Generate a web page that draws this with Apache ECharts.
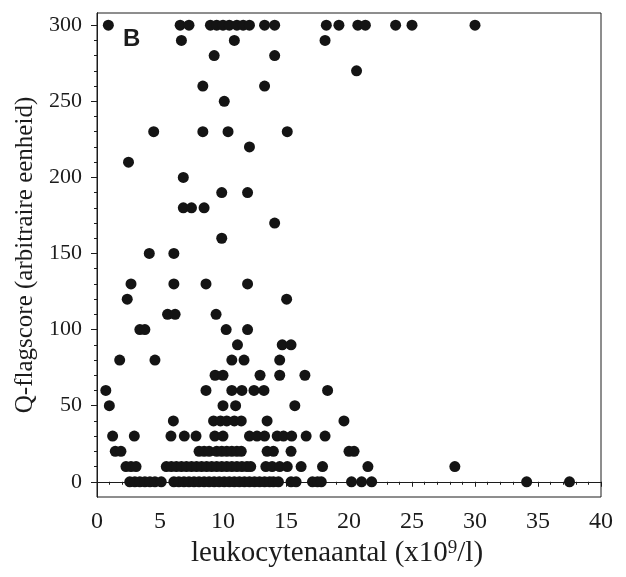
<!DOCTYPE html>
<html>
<head>
<meta charset="utf-8">
<script src="https://cdn.jsdelivr.net/npm/echarts@6/dist/echarts.min.js"></script>
<style>
html,body{margin:0;padding:0;background:#fff;}
#chart{width:626px;height:577px;}
</style>
</head>
<body>
<div id="chart"></div>
<script>
// Tick labels
const xTickLabels = [0, 5, 10, 15, 20, 25, 30, 35, 40];
const yTickLabels = [0, 50, 100, 150, 200, 250, 300];
const yMinorStep = 10;

// Leukocyte counts (x10^9/l) at each Q-flag score level
const score0 = [2.6, 3.0, 3.4, 3.8, 4.2, 4.6, 5.1, 6.1, 6.5, 6.9, 7.3, 7.7, 8.1, 8.5, 8.9, 9.3, 9.7, 10.1, 10.5, 10.9, 11.3, 11.7, 12.1, 12.5, 12.9, 13.3, 13.7, 14.0, 14.4, 15.4, 15.8, 17.1, 17.5, 17.8, 20.2, 21.0, 21.8, 34.1, 37.5];
const score10 = [2.3, 2.7, 3.1, 5.5, 5.9, 6.3, 6.7, 7.1, 7.5, 7.9, 8.3, 8.7, 9.1, 9.5, 9.9, 10.3, 10.7, 11.1, 11.5, 11.9, 12.2, 13.4, 13.9, 14.5, 15.1, 16.2, 17.9, 21.5, 28.4];
const score20 = [1.45, 1.9, 8.1, 8.5, 8.9, 9.5, 9.9, 10.3, 10.7, 11.1, 11.45, 13.5, 14.0, 15.4, 20.0, 20.4];
const score30 = [1.24, 2.96, 5.87, 6.93, 7.86, 9.35, 10.0, 12.1, 12.7, 13.3, 14.3, 14.8, 15.45, 16.6, 18.1];
const score40 = [6.06, 9.25, 9.8, 10.3, 10.9, 11.45, 13.5, 19.6];
const score50 = [0.98, 10.0, 11.0, 15.7];
const score60 = [0.7, 8.65, 10.7, 11.5, 12.46, 13.25, 18.3];
const score70 = [9.37, 10.0, 12.94, 14.5, 16.5];
const score80 = [1.8, 4.6, 10.7, 11.67, 14.5];
const score90 = [11.15, 14.7, 15.4];
const score100 = [3.4, 3.8, 10.25, 11.95];
const score110 = [5.6, 6.2, 9.45];
const score120 = [2.4, 15.05];
const score130 = [2.7, 6.1, 8.65, 11.95];
const score150 = [4.15, 6.1];
const score160 = [9.9];
const score170 = [14.1];
const score180 = [6.85, 7.5, 8.5];
const score190 = [9.9, 11.95];
const score200 = [6.85];
const score210 = [2.5];
const score220 = [12.1];
const score230 = [4.5, 8.4, 10.4, 15.1];
const score250 = [10.1];
const score260 = [8.4, 13.3];
const score270 = [20.6];
const score280 = [9.3, 14.1];
const score290 = [6.7, 10.9, 18.1];
const score300 = [0.9, 6.6, 7.3, 9.0, 9.5, 10.0, 10.5, 11.1, 11.6, 12.1, 13.3, 14.1, 18.2, 19.2, 20.7, 21.3, 23.7, 25.0, 30.0];

const levels = [
  [0, score0], [10, score10], [20, score20], [30, score30], [40, score40],
  [50, score50], [60, score60], [70, score70], [80, score80], [90, score90],
  [100, score100], [110, score110], [120, score120], [130, score130],
  [150, score150], [160, score160], [170, score170], [180, score180],
  [190, score190], [200, score200], [210, score210], [220, score220],
  [230, score230], [250, score250], [260, score260], [270, score270],
  [280, score280], [290, score290], [300, score300]
];

const points = [];
levels.forEach(([score, xs]) => xs.forEach(x => points.push([x, score])));

const yMinorTicks = [];
for (let v = yTickLabels[0]; v <= yTickLabels[yTickLabels.length - 1]; v += yMinorStep) yMinorTicks.push(v);

const serif = 'Liberation Serif';
const ink = '#1c1c1c';
const chart = echarts.init(document.getElementById('chart'), null, {renderer: 'canvas'});
chart.setOption({
  animation: false,
  backgroundColor: '#fff',
  grid: {left: 97, right: 25, top: 13, bottom: 80, show: true, borderColor: ink, borderWidth: 1, backgroundColor: 'transparent'},
  xAxis: {
    type: 'value', min: 0, max: 40, interval: 5,
    name: '{n|leukocytenaantal (x10}{s|9}{n|/l)}',
    nameLocation: 'middle', nameGap: 35,
    nameTextStyle: {padding: [0, 24, 0, 0], rich: {
      n: {fontFamily: serif, fontSize: 29, color: ink},
      s: {fontFamily: serif, fontSize: 19, color: ink, verticalAlign: 'top', padding: [0, 0, 10, 0]}
    }},
    axisLine: {show: true, lineStyle: {color: ink, width: 1}},
    axisTick: {show: true, inside: false, length: 5, lineStyle: {color: ink}},
    minorTick: {show: true, splitNumber: 5, length: 3, lineStyle: {color: ink}},
    axisLabel: {show: true, margin: 13, fontFamily: serif, fontSize: 24, color: ink},
    splitLine: {show: false}
  },
  yAxis: [{
    type: 'value', min: -10, max: 308,
    name: 'Q-flagscore (arbitraire eenheid)',
    nameLocation: 'middle', nameGap: 57,
    nameTextStyle: {fontFamily: serif, fontSize: 25, color: ink},
    axisLine: {show: true, lineStyle: {color: ink, width: 1}},
    axisTick: {show: true, inside: false, length: 6, customValues: yTickLabels, lineStyle: {color: ink}},
    axisLabel: {show: true, margin: 15, fontFamily: serif, fontSize: 22, color: ink, customValues: yTickLabels},
    splitLine: {show: false}
  }, {
    type: 'value', min: -10, max: 308, position: 'left',
    axisLine: {show: true, lineStyle: {color: ink, width: 1}},
    axisTick: {show: true, inside: false, length: 3, customValues: yMinorTicks, lineStyle: {color: ink}},
    axisLabel: {show: false},
    splitLine: {show: false}
  }],
  graphic: [{
    type: 'text', left: 123, top: 27,
    style: {text: 'B', font: 'bold 24px "Liberation Sans"', fill: ink}
  }],
  series: [{
    type: 'scatter', data: points, symbol: 'circle', symbolSize: 11,
    itemStyle: {color: '#141414', opacity: 1}
  }]
});
</script>
</body>
</html>
